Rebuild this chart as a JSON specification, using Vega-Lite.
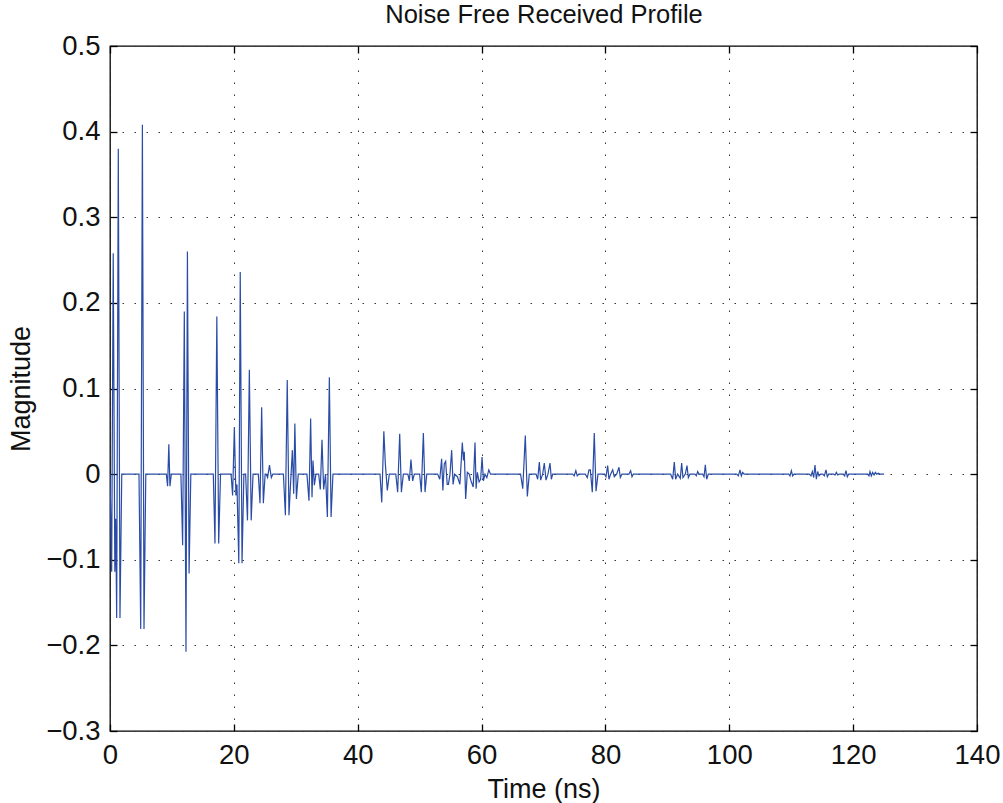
{
  "$schema": "https://vega.github.io/schema/vega-lite/v6.json",
  "width": 867,
  "height": 685,
  "autosize": {"type": "none"},
  "padding": {"left": 110, "top": 46, "right": 26, "bottom": 72},
  "background": "white",
  "config": {
    "view": {"stroke": "#000", "strokeWidth": 1.3},
    "axis": {"minExtent": 0, "labelFont": "Liberation Sans", "titleFont": "Liberation Sans", "labelFontSize": 27.5, "titleFontSize": 27, "titleFontWeight": "normal", "labelColor": "#111", "titleColor": "#111", "domain": false, "tickColor": "#000", "tickWidth": 1.3, "gridColor": "#333", "gridDash": [1.5, 10.5], "gridWidth": 1, "gridOpacity": 1, "labelFlush": false}
  },
  "data": {"values": [
    {"t":0,"v":0},{"t":0.27,"v":-0.114},{"t":0.52,"v":0.258},{"t":0.78,"v":-0.114},{"t":0.92,"v":-0.052},{"t":1.08,"v":-0.168},{"t":1.34,"v":0.38},{"t":1.61,"v":-0.168},{"t":1.9,"v":0},
    {"t":4.68,"v":0},{"t":4.96,"v":-0.181},{"t":5.23,"v":0.408},{"t":5.49,"v":-0.181},{"t":5.78,"v":0},
    {"t":9.1,"v":0},{"t":9.3,"v":-0.014},{"t":9.5,"v":0.035},{"t":9.68,"v":-0.014},{"t":9.9,"v":0},
    {"t":11.45,"v":0},{"t":11.73,"v":-0.083},{"t":12.0,"v":0.19},{"t":12.27,"v":-0.2075},{"t":12.5,"v":0.26},{"t":12.77,"v":-0.116},{"t":13.05,"v":0},
    {"t":16.68,"v":0},{"t":16.95,"v":-0.081},{"t":17.25,"v":0.184},{"t":17.55,"v":-0.081},{"t":17.85,"v":0},
    {"t":19.55,"v":0},{"t":19.8,"v":-0.025},{"t":20.08,"v":0.055},{"t":20.33,"v":-0.025},{"t":20.5,"v":-0.012},{"t":20.8,"v":-0.104},{"t":21.03,"v":0.236},{"t":21.32,"v":-0.104},{"t":21.62,"v":0},
    {"t":21.9,"v":0},{"t":22.2,"v":-0.054},{"t":22.5,"v":0.122},{"t":22.8,"v":-0.054},{"t":23.1,"v":0},
    {"t":23.95,"v":0},{"t":24.22,"v":-0.034},{"t":24.49,"v":0.078},{"t":24.76,"v":-0.034},{"t":25.05,"v":0},
    {"t":25.2,"v":0},{"t":25.45,"v":-0.004},{"t":25.75,"v":0.0105},{"t":26.05,"v":-0.004},{"t":26.3,"v":0},
    {"t":28.0,"v":0},{"t":28.32,"v":-0.048},{"t":28.62,"v":0.11},{"t":28.9,"v":-0.048},{"t":29.17,"v":-0.009},{"t":29.45,"v":0.028},{"t":29.66,"v":-0.023},{"t":29.85,"v":0.059},{"t":30.1,"v":-0.029},{"t":30.4,"v":0},
    {"t":31.8,"v":0},{"t":32.13,"v":-0.031},{"t":32.4,"v":0.065},{"t":32.62,"v":-0.027},{"t":32.78,"v":0.016},{"t":33.0,"v":-0.013},{"t":33.26,"v":0},
    {"t":33.7,"v":0},{"t":33.96,"v":-0.018},{"t":34.23,"v":0.04},{"t":34.5,"v":-0.018},{"t":34.8,"v":0},{"t":35.1,"v":-0.05},{"t":35.42,"v":0.113},{"t":35.7,"v":-0.05},{"t":36.0,"v":0},
    {"t":43.6,"v":0},{"t":43.88,"v":-0.033},{"t":44.22,"v":0.05},{"t":44.46,"v":0.012},{"t":44.78,"v":-0.019},{"t":45.1,"v":0},
    {"t":46.15,"v":0},{"t":46.45,"v":-0.021},{"t":46.78,"v":0.047},{"t":47.05,"v":-0.021},{"t":47.37,"v":0},
    {"t":48.1,"v":0},{"t":48.33,"v":-0.008},{"t":48.6,"v":0.017},{"t":48.87,"v":-0.008},{"t":49.14,"v":0},
    {"t":50.0,"v":0},{"t":50.27,"v":-0.021},{"t":50.6,"v":0.048},{"t":50.87,"v":-0.021},{"t":51.15,"v":0},
    {"t":52.9,"v":0},{"t":53.25,"v":-0.006},{"t":53.55,"v":0.018},{"t":53.75,"v":-0.019},{"t":53.98,"v":0.012},{"t":54.2,"v":0.015},{"t":54.45,"v":-0.012},{"t":54.65,"v":-0.012},{"t":54.9,"v":0},{"t":55.17,"v":0.028},{"t":55.4,"v":-0.012},{"t":55.65,"v":0},{"t":56.1,"v":-0.003},{"t":56.5,"v":-0.012},{"t":56.89,"v":0.037},{"t":57.08,"v":0.016},{"t":57.21,"v":0.026},{"t":57.43,"v":-0.029},{"t":57.7,"v":0.002},{"t":58.0,"v":0},{"t":58.3,"v":-0.008},{"t":58.65,"v":-0.015},{"t":58.94,"v":0.037},{"t":59.12,"v":-0.017},{"t":59.32,"v":0.002},{"t":59.6,"v":-0.009},{"t":59.85,"v":-0.006},{"t":60.08,"v":0.02},{"t":60.3,"v":-0.008},{"t":60.55,"v":0},{"t":60.85,"v":-0.004},{"t":61.17,"v":0.005},{"t":61.45,"v":0},
    {"t":66.3,"v":0},{"t":66.65,"v":-0.017},{"t":67.06,"v":0.045},{"t":67.39,"v":-0.026},{"t":67.7,"v":0},
    {"t":68.8,"v":0},{"t":69.06,"v":-0.006},{"t":69.33,"v":0.014},{"t":69.54,"v":-0.007},{"t":69.86,"v":0},{"t":70.13,"v":0.013},{"t":70.4,"v":-0.007},{"t":70.72,"v":0},{"t":71.05,"v":0.013},{"t":71.27,"v":-0.006},{"t":71.48,"v":0},
    {"t":74.7,"v":0},{"t":74.95,"v":-0.002},{"t":75.22,"v":0.004},{"t":75.45,"v":-0.002},{"t":75.7,"v":0},
    {"t":76.75,"v":0},{"t":77.07,"v":-0.004},{"t":77.35,"v":0.005},{"t":77.56,"v":0.005},{"t":77.88,"v":-0.021},{"t":78.2,"v":0.048},{"t":78.48,"v":-0.02},{"t":78.8,"v":0},
    {"t":79.85,"v":0},{"t":80.09,"v":-0.003},{"t":80.36,"v":0.01},{"t":80.57,"v":-0.006},{"t":80.84,"v":0},{"t":81.17,"v":0.005},{"t":81.43,"v":-0.003},{"t":81.81,"v":0},{"t":82.19,"v":0.008},{"t":82.4,"v":-0.004},{"t":82.67,"v":0},
    {"t":83.8,"v":0},{"t":84.07,"v":0.004},{"t":84.29,"v":-0.003},{"t":84.5,"v":0},
    {"t":90.53,"v":0},{"t":90.86,"v":-0.006},{"t":91.12,"v":0.014},{"t":91.34,"v":-0.006},{"t":91.66,"v":0},{"t":92.09,"v":-0.005},{"t":92.31,"v":0.013},{"t":92.52,"v":-0.004},{"t":92.9,"v":0},{"t":93.17,"v":0.01},{"t":93.39,"v":-0.004},{"t":93.65,"v":0},
    {"t":94.45,"v":0},{"t":94.68,"v":-0.002},{"t":94.89,"v":0.003},{"t":95.11,"v":0},
    {"t":95.7,"v":0},{"t":95.92,"v":-0.003},{"t":96.13,"v":0.011},{"t":96.35,"v":-0.006},{"t":96.61,"v":0},
    {"t":101.2,"v":0},{"t":101.46,"v":-0.002},{"t":101.73,"v":0.005},{"t":101.94,"v":-0.002},{"t":102.16,"v":0.002},{"t":102.4,"v":0},
    {"t":109.6,"v":0},{"t":109.8,"v":-0.002},{"t":110.02,"v":0.004},{"t":110.23,"v":-0.002},{"t":110.45,"v":0},
    {"t":112.92,"v":0},{"t":113.19,"v":-0.002},{"t":113.41,"v":0.003},{"t":113.63,"v":-0.004},{"t":113.84,"v":0.0105},{"t":114.06,"v":-0.006},{"t":114.27,"v":0.003},{"t":114.49,"v":-0.002},{"t":114.75,"v":0},
    {"t":115.1,"v":0},{"t":115.35,"v":-0.002},{"t":115.61,"v":0.005},{"t":115.83,"v":-0.003},{"t":116.04,"v":0},
    {"t":116.85,"v":0},{"t":117.07,"v":-0.001},{"t":117.29,"v":0.002},{"t":117.5,"v":-0.001},{"t":117.72,"v":0},
    {"t":118.4,"v":0},{"t":118.63,"v":-0.002},{"t":118.84,"v":0.004},{"t":119.06,"v":-0.003},{"t":119.27,"v":0},
    {"t":122.34,"v":0},{"t":122.56,"v":-0.002},{"t":122.72,"v":0.003},{"t":122.93,"v":-0.002},{"t":123.15,"v":0.002},{"t":123.37,"v":-0.001},{"t":123.58,"v":0.002},{"t":123.8,"v":0},{"t":124.07,"v":0.001},{"t":124.33,"v":0},{"t":125,"v":0}
  ]},
  "layer": [
    {
      "mark": {"type": "line", "color": "#2a4ca6", "strokeWidth": 1.2, "clip": true},
      "encoding": {
        "x": {"field": "t", "type": "quantitative", "scale": {"domain": [0, 140], "nice": false, "zero": false},
          "axis": {"orient": "bottom", "values": [0,20,40,60,80,100,120,140], "format": "d", "title": "Time (ns)", "grid": true, "tickSize": -7, "labelPadding": 17, "titlePadding": 8}},
        "y": {"field": "v", "type": "quantitative", "scale": {"domain": [-0.3, 0.5], "nice": false, "zero": false},
          "axis": {"orient": "left", "values": [-0.3,-0.2,-0.1,0,0.1,0.2,0.3,0.4,0.5], "format": ".1~f", "title": "Magnitude", "grid": true, "tickSize": -7, "labelPadding": 17, "titlePadding": 10}}
      }
    },
    {
      "mark": {"type": "line", "opacity": 0},
      "encoding": {
        "x": {"field": "t", "type": "quantitative", "scale": {"domain": [0, 140], "nice": false, "zero": false},
          "axis": {"orient": "top", "values": [0,20,40,60,80,100,120,140], "labels": false, "title": "Noise Free Received Profile", "titleFontSize": 25.5, "titleBaseline": "alphabetic", "titlePadding": 23, "grid": false, "tickSize": -7}},
        "y": {"field": "v", "type": "quantitative", "scale": {"domain": [-0.3, 0.5], "nice": false, "zero": false},
          "axis": {"orient": "right", "values": [-0.3,-0.2,-0.1,0,0.1,0.2,0.3,0.4,0.5], "labels": false, "title": null, "grid": false, "tickSize": -7}}
      }
    }
  ],
  "resolve": {"axis": {"x": "independent", "y": "independent"}}
}
